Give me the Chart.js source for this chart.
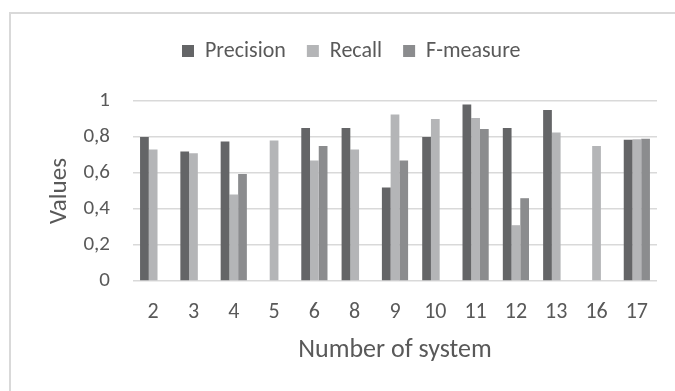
<!DOCTYPE html>
<html>
<head>
<meta charset="utf-8">
<script src="https://cdn.jsdelivr.net/npm/chart.js@4/dist/chart.umd.min.js"></script>
<style>
  html, body { margin: 0; padding: 0; background: #ffffff; }
  #wrap { position: relative; width: 675px; height: 391px; overflow: hidden; }
  #frame { position: absolute; left: 9px; top: 12px; width: 700px; height: 400px;
           border-top: 2px solid #d9d9d9; border-left: 2px solid #d9d9d9; box-sizing: border-box; }
  canvas { position: absolute; left: 0; top: 0; }
</style>
</head>
<body>
<div id="wrap">
  <div id="frame"></div>
  <canvas id="c" width="675" height="391"></canvas>
</div>
<script>
// ---- data ----
const systems = ['2', '3', '4', '5', '6', '8', '9', '10', '11', '12', '13', '16', '17'];
const precision = [0.80, 0.72, 0.775, null, 0.85, 0.85, 0.52, 0.80, 0.98, 0.85, 0.95, null, 0.785];
const recall    = [0.73, 0.71, 0.48, 0.78, 0.67, 0.73, 0.925, 0.90, 0.905, 0.31, 0.825, 0.75, 0.787];
const fmeasure  = [null, null, 0.595, null, 0.75, null, 0.67, null, 0.845, 0.46, null, null, 0.79];
const seriesNames = ['Precision', 'Recall', 'F-measure'];
const yTickLabels = ['0', '0,2', '0,4', '0,6', '0,8', '1'];
const xTitle = 'Number of system';
const yTitle = 'Values';

const FONT = "Carlito, Lato, 'Open Sans', sans-serif";
const TEXT = '#595959';
const GRID = '#d9d9d9';

const legendPlacement = {
  id: 'legendPlacement',
  beforeLayout(chart) {
    const lg = chart.legend;
    if (lg && !lg._extraWrapped) {
      const orig = lg.fit;
      lg.fit = function () { orig.call(this); this.height += 29; };
      lg._extraWrapped = true;
    }
  },
  afterLayout(chart) {
    if (chart.legend) { chart.legend.left = 161; }
  }
};

new Chart(document.getElementById('c'), {
  type: 'bar',
  data: {
    labels: systems,
    datasets: [
      { label: seriesNames[0], data: precision, backgroundColor: '#646567' },
      { label: seriesNames[1], data: recall,    backgroundColor: '#b4b5b7' },
      { label: seriesNames[2], data: fmeasure,  backgroundColor: '#8b8c8e' }
    ]
  },
  plugins: [legendPlacement],
  options: {
    responsive: false,
    animation: false,
    devicePixelRatio: 1,
    layout: { padding: { left: 10, right: 18, top: 19, bottom: 0 } },
    datasets: { bar: { categoryPercentage: 0.65, barPercentage: 1.0 } },
    plugins: {
      tooltip: { enabled: false },
      legend: {
        position: 'top',
        align: 'start',
        labels: {
          color: TEXT,
          font: { family: FONT, size: 22 },
          boxWidth: 12,
          boxHeight: 12,
          padding: 21
        }
      }
    },
    scales: {
      x: {
        grid: { display: false, drawTicks: false },
        border: { display: false },
        ticks: { color: TEXT, font: { family: FONT, size: 22 }, padding: 18, maxRotation: 0 },
        title: { display: true, text: xTitle, color: TEXT, font: { family: FONT, size: 26 }, padding: { top: 4, bottom: 25 } },
        afterFit(scale) { scale.height = 110; }
      },
      y: {
        min: 0,
        max: 1,
        grid: { color: GRID, lineWidth: 1.5, drawTicks: false },
        border: { display: false },
        ticks: {
          stepSize: 0.2,
          color: TEXT,
          font: { family: FONT, size: 21 },
          padding: 23,
          callback: (v, i) => yTickLabels[i]
        },
        title: { display: true, text: yTitle, color: TEXT, font: { family: FONT, size: 25 }, padding: { top: 35, bottom: 0 } },
        afterFit(scale) { scale.width = 123; }
      }
    }
  }
});
</script>
</body>
</html>
